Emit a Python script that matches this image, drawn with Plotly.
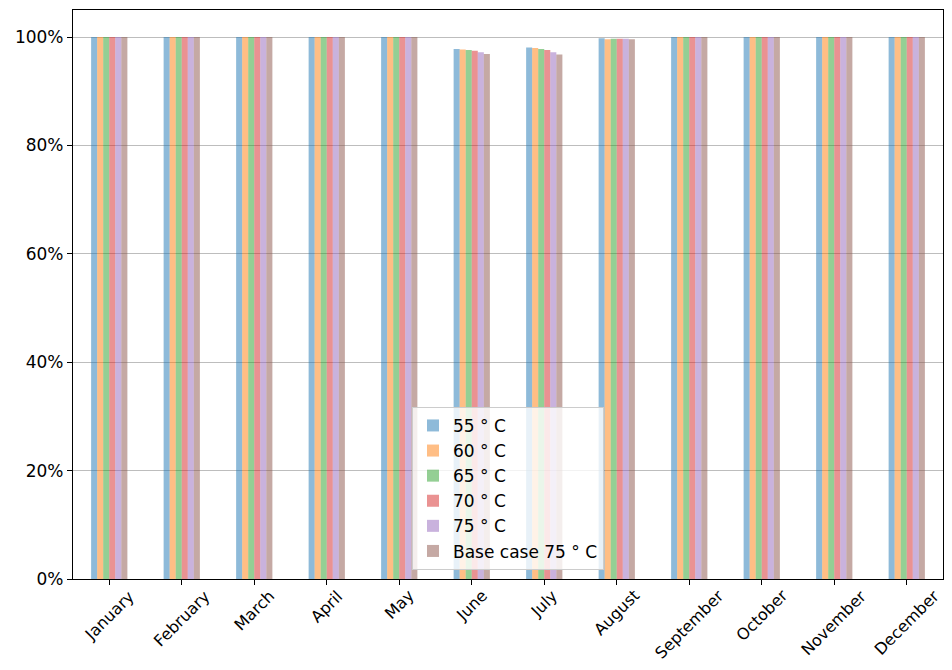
import plotly.graph_objects as go

months = ["January", "February", "March", "April", "May", "June",
          "July", "August", "September", "October", "November", "December"]

series_names = ["55 ° C", "60 ° C", "65 ° C", "70 ° C", "75 ° C", "Base case 75 ° C"]

# share of demand covered per month (fraction)
s55 = [1.0, 1.0, 1.0, 1.0, 1.0, 0.978, 0.981, 0.998, 1.0, 1.0, 1.0, 1.0]
s60 = [1.0, 1.0, 1.0, 1.0, 1.0, 0.977, 0.980, 0.996, 1.0, 1.0, 1.0, 1.0]
s65 = [1.0, 1.0, 1.0, 1.0, 1.0, 0.976, 0.978, 0.997, 1.0, 1.0, 1.0, 1.0]
s70 = [1.0, 1.0, 1.0, 1.0, 1.0, 0.975, 0.976, 0.997, 1.0, 1.0, 1.0, 1.0]
s75 = [1.0, 1.0, 1.0, 1.0, 1.0, 0.972, 0.972, 0.997, 1.0, 1.0, 1.0, 1.0]
base75 = [1.0, 1.0, 1.0, 1.0, 1.0, 0.969, 0.968, 0.996, 1.0, 1.0, 1.0, 1.0]

colors = ["#1f77b4", "#ff7f0e", "#2ca02c", "#d62728", "#9467bd", "#8c564b"]

fig = go.Figure()
for name, vals, c in zip(series_names, [s55, s60, s65, s70, s75, base75], colors):
    fig.add_trace(go.Bar(x=months, y=vals, name=name, marker_color=c,
                         marker_line_width=0, opacity=0.5))

# rotated month labels centred on the ticks (matplotlib style)
for m in months:
    fig.add_annotation(x=m, y=-0.008, xref="x", yref="paper", text=m,
                       textangle=-45, showarrow=False, xanchor="center",
                       yanchor="top", font=dict(size=16, color="black"))

# page body adds an 8px margin; keep the figure inside the window width
fig.update_layout(
    width=936, height=661,
    margin=dict(l=65, r=1, t=2, b=90),
    plot_bgcolor="white", paper_bgcolor="white",
    font=dict(family="DejaVu Sans", size=17, color="black"),
    barmode="group", bargap=0.5, bargroupgap=0,
    legend=dict(x=0.5, y=0.016, xanchor="center", yanchor="bottom",
                bgcolor="rgba(255,255,255,0.8)", bordercolor="#cccccc",
                borderwidth=1, font=dict(size=17), tracegroupgap=0),
)
fig.update_xaxes(range=[-0.5, 11.5], showticklabels=False, ticks="outside",
                 ticklen=5, tickcolor="black", showline=True, linecolor="black",
                 linewidth=1.2, mirror=True, showgrid=False, automargin=False)
fig.update_yaxes(range=[0, 1.05], tickformat=".0%", dtick=0.2, ticks="outside",
                 ticklen=5, tickcolor="black", showline=True, linecolor="black",
                 linewidth=1.2, mirror=True, showgrid=True, gridcolor="#bdbdbd",
                 zeroline=False, tickfont=dict(size=17), automargin=False)

fig.write_html("out.html")
